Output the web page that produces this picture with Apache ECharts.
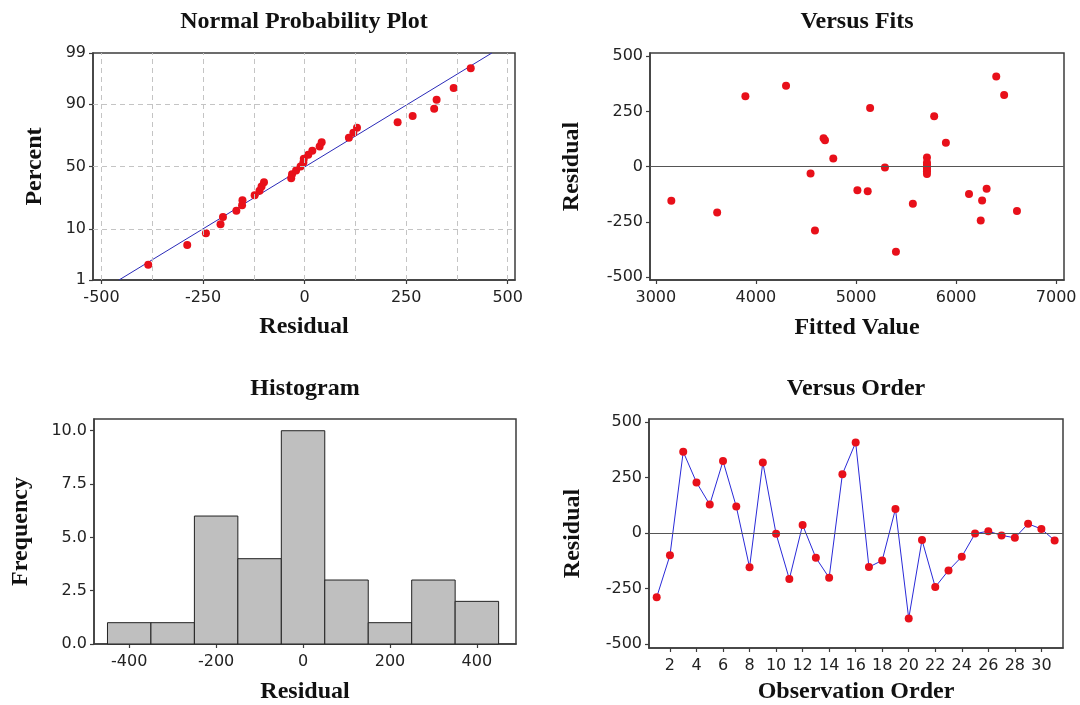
<!DOCTYPE html>
<html>
<head>
<meta charset="utf-8" />
<title>Residual Plots</title>
<script src="https://cdn.jsdelivr.net/npm/echarts@6.0.0/dist/echarts.min.js"></script>
<style>
	html, body { margin: 0; padding: 0; background: #fff; }
	#main { width: 1080px; height: 705px; }
</style>
</head>
<body>
<div id="main"></div>
<script>
// residuals in observation order
var residuals = [-289, -100, 367, 229, 129, 325, 120, -154, 319, -3, -207, 37, -111, -201, 266,
	409, -153, -123, 109, -385, -31, -243, -168, -106, -2, 9, -10, -21, 42, 19, -33];
// fitted values in the same order (Versus Fits panel)
var fitted = [4590, 6305, 4301, 5781, 4676, 6480, 4690, 3155, 3895, 5289, 3613, 4773, 5117, 6608, 5141,
	6401, 6260, 6129, 5898, 5399, 4546, 6246, 5568, 5014, 5709, 5709, 5709, 5709, 5709, 5709, 5709];
// plotting percent of the sorted residuals (Normal Probability Plot)
var probPercent = [2.2, 5.4, 8.6, 11.8, 15.0, 18.2, 21.3, 24.5, 27.7, 30.9, 34.1, 37.3, 40.4, 43.6, 46.8,
	50.0, 53.2, 56.4, 59.6, 62.7, 65.9, 69.1, 72.3, 75.5, 78.7, 81.8, 85.0, 88.2, 91.4, 94.6, 97.8];
// fitted normal line, [residual, percent] at both ends
var fitLine = [[-457, 1], [461, 99]];
// histogram
var binEdges = [-450, -350, -250, -150, -50, 50, 150, 250, 350, 450];
var binCounts = [1, 1, 6, 4, 10, 3, 1, 3, 2];

// tick labels
var probTicks = [1, 10, 50, 90, 99];
var probGridX = [-500, -375, -250, -125, 0, 125, 250, 375, 500];
var probGridY = [10, 50, 90];
var probXTicks = [-500, -250, 0, 250, 500];
var residTicks = [-500, -250, 0, 250, 500];
var fitTicks = [3000, 4000, 5000, 6000, 7000];
var histTicks = [-400, -200, 0, 200, 400];
var freqTicks = [0, 2.5, 5, 7.5, 10];
var orderTicks = [2, 4, 6, 8, 10, 12, 14, 16, 18, 20, 22, 24, 26, 28, 30];

// inverse normal cdf (Acklam) - used as the probability scale
function probit(p) {
	var a = [-3.969683028665376e+01, 2.209460984245205e+02, -2.759285104469687e+02, 1.383577518672690e+02, -3.066479806614716e+01, 2.506628277459239e+00];
	var b = [-5.447609879822406e+01, 1.615858368580409e+02, -1.556989798598866e+02, 6.680131188771972e+01, -1.328068155288572e+01];
	var c = [-7.784894002430293e-03, -3.223964580411365e-01, -2.400758277161838e+00, -2.549671010115819e+00, 4.374664141464968e+00, 2.938163982698783e+00];
	var d = [7.784695709041462e-03, 3.224671290700398e-01, 2.445134137142996e+00, 3.754408661907416e+00];
	var pl = 0.02425, q, r;
	if (p < pl) {
		q = Math.sqrt(-2 * Math.log(p));
		return (((((c[0] * q + c[1]) * q + c[2]) * q + c[3]) * q + c[4]) * q + c[5]) / ((((d[0] * q + d[1]) * q + d[2]) * q + d[3]) * q + 1);
	}
	if (p > 1 - pl) {
		q = Math.sqrt(-2 * Math.log(1 - p));
		return -(((((c[0] * q + c[1]) * q + c[2]) * q + c[3]) * q + c[4]) * q + c[5]) / ((((d[0] * q + d[1]) * q + d[2]) * q + d[3]) * q + 1);
	}
	q = p - 0.5; r = q * q;
	return (((((a[0] * r + a[1]) * r + a[2]) * r + a[3]) * r + a[4]) * r + a[5]) * q / (((((b[0] * r + b[1]) * r + b[2]) * r + b[3]) * r + b[4]) * r + 1);
}
function z(pct) { return probit(pct / 100); }

var serif = '"Liberation Serif", "Times New Roman", serif';
var sans = '"DejaVu Sans", Verdana, sans-serif';
var frameColor = '#3c3c3c';
var dotColor = '#e8101a';

function plain(v) { return String(v); }

function axis(gridIndex, opt) {
	return {
		gridIndex: gridIndex,
		type: 'value',
		min: opt.min,
		max: opt.max,
		name: opt.name,
		nameLocation: 'middle',
		nameGap: opt.nameGap,
		nameTextStyle: { fontFamily: serif, fontWeight: 'bold', fontSize: 24, color: '#111' },
		axisLine: { show: true, onZero: false, lineStyle: { color: frameColor, width: 1.5 } },
		axisTick: { show: true, length: 4, customValues: opt.ticks, lineStyle: { color: frameColor, width: 1.2 } },
		axisLabel: { customValues: opt.ticks, margin: opt.margin || 7, fontFamily: sans, fontSize: 16, color: '#222', formatter: opt.formatter || plain },
		splitLine: { show: false }
	};
}

var grids = [
	{ left: 93, top: 53, width: 422, height: 227 },
	{ left: 650, top: 53, width: 414, height: 227 },
	{ left: 94, top: 419, width: 422, height: 229 },
	{ left: 649, top: 419, width: 414, height: 229 }
].map(function (g) {
	g.show = true; g.borderColor = frameColor; g.borderWidth = 1.5; g.backgroundColor = '#fff';
	return g;
});

var sortedRes = residuals.slice().sort(function (p, q) { return p - q; });
var gridMarks = probGridX.map(function (v) { return { xAxis: v }; })
	.concat(probGridY.map(function (p) { return { yAxis: z(p) }; }));

var chart = echarts.init(document.getElementById('main'), null, { renderer: 'canvas' });
chart.setOption({
	animation: false,
	backgroundColor: '#fff',
	title: [
		{ text: 'Normal Probability Plot', left: 304, top: 10 },
		{ text: 'Versus Fits', left: 857, top: 10 },
		{ text: 'Histogram', left: 305, top: 377 },
		{ text: 'Versus Order', left: 856, top: 377 }
	].map(function (t) {
		t.textAlign = 'center'; t.padding = 0;
		t.textStyle = { fontFamily: serif, fontWeight: 'bold', fontSize: 24, color: '#111' };
		return t;
	}),
	grid: grids,
	xAxis: [
		axis(0, { min: -521, max: 518, ticks: probXTicks, name: 'Residual', nameGap: 35, margin: 10 }),
		axis(1, { min: 2942, max: 7078, ticks: fitTicks, name: 'Fitted Value', nameGap: 36, margin: 10 }),
		axis(2, { min: -481, max: 490, ticks: histTicks, name: 'Residual', nameGap: 36, margin: 10 }),
		axis(3, { min: 0.42, max: 31.63, ticks: orderTicks, name: 'Observation Order', nameGap: 32, margin: 10 })
	],
	yAxis: [
		axis(0, { min: z(1), max: z(99), ticks: probTicks.map(z), name: 'Percent', nameGap: 46,
			formatter: function (v) {
				for (var i = 0; i < probTicks.length; i++) {
					if (Math.abs(z(probTicks[i]) - v) < 1e-6) return String(probTicks[i]);
				}
				return '';
			} }),
		axis(1, { min: -513, max: 515, ticks: residTicks, name: 'Residual', nameGap: 66 }),
		axis(2, { min: 0, max: 10.55, ticks: freqTicks, name: 'Frequency', nameGap: 61,
			formatter: function (v) { return v.toFixed(1); } }),
		axis(3, { min: -518, max: 515, ticks: residTicks, name: 'Residual', nameGap: 64 })
	],
	series: [
		{
			type: 'line', xAxisIndex: 0, yAxisIndex: 0, z: 2,
			data: fitLine.map(function (d) { return [d[0], z(d[1])]; }),
			symbol: 'none',
			lineStyle: { color: '#2a2ab8', width: 1 },
			markLine: {
				silent: true, symbol: ['none', 'none'], label: { show: false },
				lineStyle: { color: '#c4c4c4', type: [5, 4], width: 1 },
				data: gridMarks
			}
		},
		{
			type: 'scatter', xAxisIndex: 0, yAxisIndex: 0, z: 3,
			symbolSize: 8, itemStyle: { color: dotColor, opacity: 1 },
			data: sortedRes.map(function (r, i) { return [r, z(probPercent[i])]; })
		},
		{
			type: 'scatter', xAxisIndex: 1, yAxisIndex: 1, z: 3,
			symbolSize: 8, itemStyle: { color: dotColor, opacity: 1 },
			data: fitted.map(function (f, i) { return [f, residuals[i]]; }),
			markLine: {
				silent: true, symbol: ['none', 'none'], label: { show: false },
				lineStyle: { color: '#555', type: 'solid', width: 1.2 },
				data: [{ yAxis: 0 }]
			}
		},
		{
			type: 'custom', xAxisIndex: 2, yAxisIndex: 2,
			encode: { x: [0, 1], y: 2 },
			data: binCounts.map(function (n, i) { return [binEdges[i], binEdges[i + 1], n]; }),
			renderItem: function (params, api) {
				var p0 = api.coord([api.value(0), api.value(2)]);
				var p1 = api.coord([api.value(1), 0]);
				return {
					type: 'rect',
					shape: { x: p0[0], y: p0[1], width: p1[0] - p0[0], height: p1[1] - p0[1] },
					style: { fill: '#bfbfbf', stroke: '#222', lineWidth: 1 }
				};
			}
		},
		{
			type: 'line', xAxisIndex: 3, yAxisIndex: 3, z: 3,
			data: residuals.map(function (r, i) { return [i + 1, r]; }),
			symbol: 'circle', symbolSize: 8,
			itemStyle: { color: dotColor, opacity: 1 },
			lineStyle: { color: '#2a2ad8', width: 1 },
			markLine: {
				silent: true, symbol: ['none', 'none'], label: { show: false },
				lineStyle: { color: '#555', type: 'solid', width: 1.2 },
				data: [{ yAxis: 0 }]
			}
		}
	]
});
</script>
</body>
</html>
